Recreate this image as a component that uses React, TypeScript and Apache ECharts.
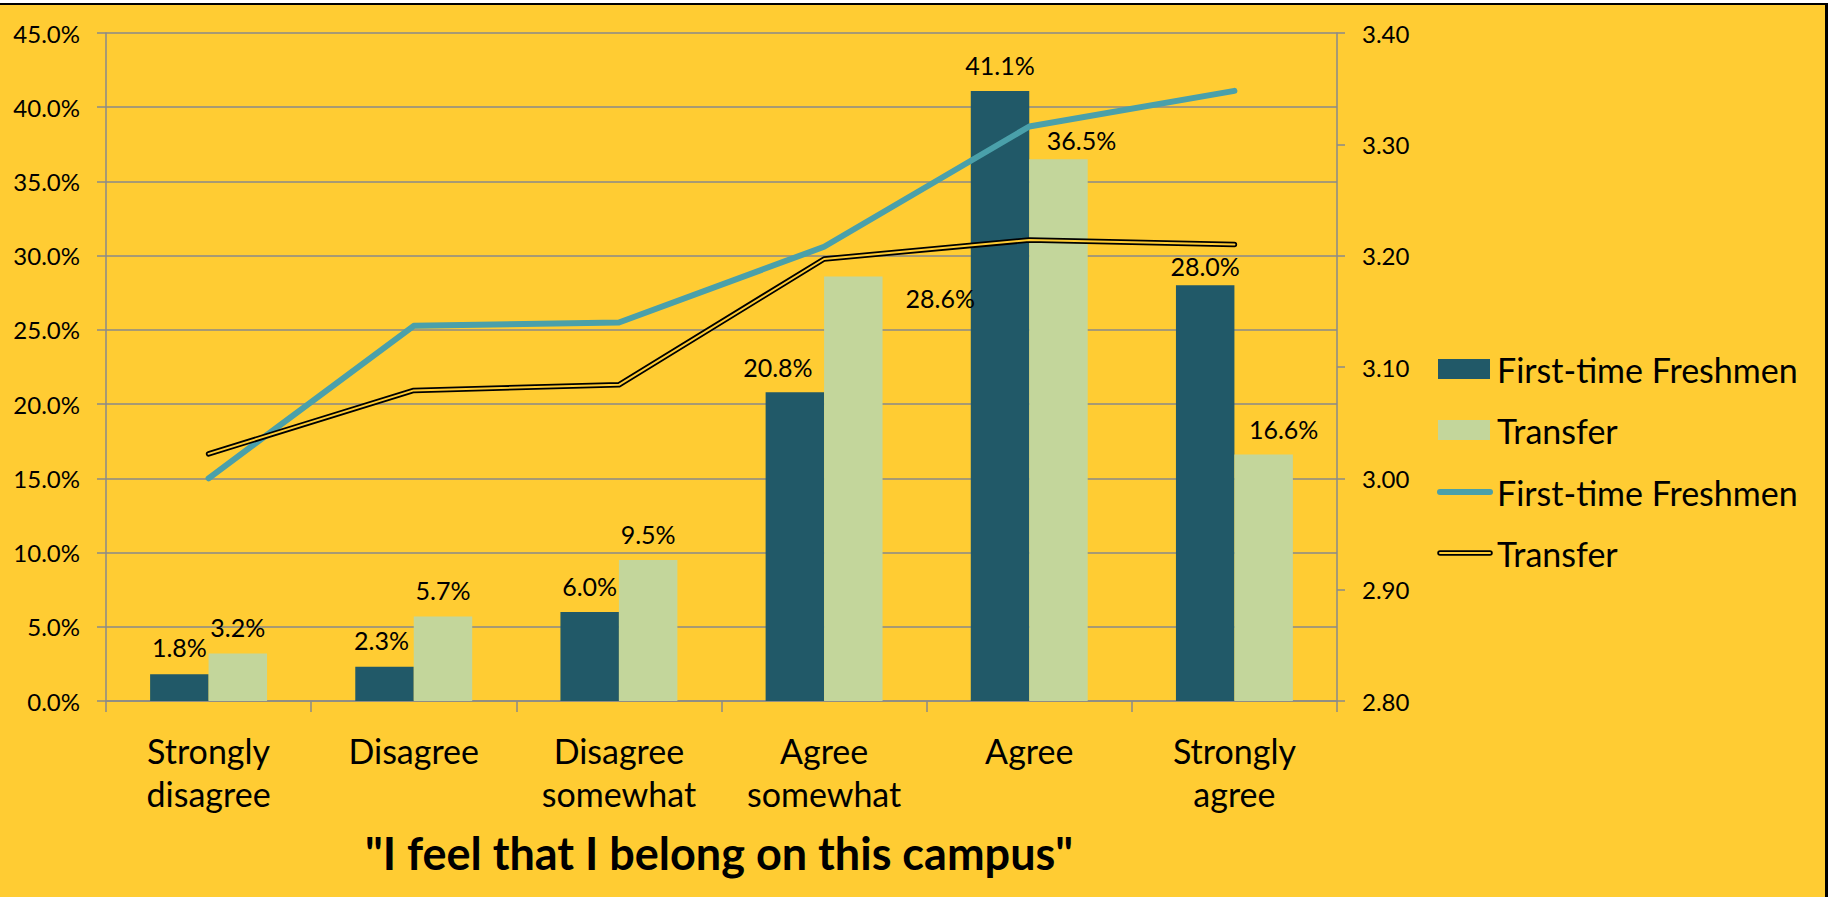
import React, { useEffect, useRef } from "react";
import * as echarts from "echarts";

const categories = [
  "Strongly\ndisagree",
  "Disagree",
  "Disagree\nsomewhat",
  "Agree\nsomewhat",
  "Agree",
  "Strongly\nagree",
];
const barFreshmen = [1.8, 2.3, 6.0, 20.8, 41.1, 28.0];
const barTransfer = [3.2, 5.7, 9.5, 28.6, 36.5, 16.6];
const meanFreshmen = [3.0, 3.137, 3.14, 3.208, 3.316, 3.348];
const meanTransfer = [3.022, 3.079, 3.084, 3.197, 3.214, 3.21];
const seriesNames = ["First-time Freshmen", "Transfer"];
const titleText = '"I feel that I belong on this campus"';

// label nudges (styling)
const freshLabelOffsets = [[0, -2], [-3, -1], [0, 0], [-17, 0], [0, 0], [0, 6]];
const transferLabelOffsets = [[0, -1], [0, -1], [0, 0], [87, 47], [23, 6], [20, 0]];

const YELLOW = "#FFCC33";
const DARK = "#215968";
const LIGHT = "#C3D69B";
const TEAL = "#4AA0AA";
const GRID = "#8a8a8a";
const FONT = "Lato, 'Noto Sans', sans-serif";

export default function App() {
  const ref = useRef<HTMLDivElement>(null);

  useEffect(() => {
    document.body.style.margin = "0";
    const chart = echarts.init(ref.current!, undefined, { renderer: "svg" });
    const labelStyle = {
      show: true,
      position: "top" as const,
      distance: 13,
      color: "#000",
      fontFamily: FONT,
      fontSize: 25,
      formatter: (p: any) => `${Number(p.value).toFixed(1)}%`,
    };
    const legendY = [369, 430, 492, 553];
    const legendText = (y: number, text: string) => ({
      type: "text",
      x: 1497,
      y,
      style: {
        text,
        fill: "#000",
        font: `34px ${FONT}`,
        textAlign: "left",
        textVerticalAlign: "middle",
      },
    });
    chart.setOption({
      animation: false,
      backgroundColor: "transparent",
      grid: { left: 106, right: 494, top: 33, bottom: 214, containLabel: false },
      xAxis: {
        type: "category",
        data: categories,
        axisLine: { show: true, lineStyle: { color: GRID, width: 1.5 } },
        axisTick: { show: true, length: 11, interval: 0, lineStyle: { color: GRID, width: 1.5 } },
        axisLabel: {
          interval: 0,
          margin: 28,
          color: "#000",
          fontFamily: FONT,
          fontSize: 34,
          lineHeight: 43,
          verticalAlign: "top",
        },
      },
      yAxis: [
        {
          type: "value",
          min: 0,
          max: 45,
          interval: 5,
          axisLine: { show: true, lineStyle: { color: GRID, width: 1.5 } },
          axisTick: { show: true, length: 9, lineStyle: { color: GRID, width: 1.5 } },
          splitLine: { show: true, lineStyle: { color: GRID, width: 1.5 } },
          axisLabel: {
            margin: 26,
            color: "#000",
            fontFamily: FONT,
            fontSize: 24,
            formatter: (v: number) => `${v.toFixed(1)}%`,
          },
        },
        {
          type: "value",
          min: 2.8,
          max: 3.4,
          interval: 0.1,
          position: "right",
          axisLine: { show: true, lineStyle: { color: GRID, width: 1.5 } },
          axisTick: { show: true, length: 8, lineStyle: { color: GRID, width: 1.5 } },
          splitLine: { show: false },
          axisLabel: {
            margin: 25,
            color: "#000",
            fontFamily: FONT,
            fontSize: 24,
            formatter: (v: number) => v.toFixed(2),
          },
        },
      ],
      series: [
        {
          name: seriesNames[0],
          type: "bar",
          data: barFreshmen.map((v, i) => ({ value: v, label: { offset: freshLabelOffsets[i] } })),
          itemStyle: { color: DARK },
          barGap: "0%",
          barCategoryGap: "43%",
          label: labelStyle,
        },
        {
          name: seriesNames[1],
          type: "bar",
          data: barTransfer.map((v, i) => ({ value: v, label: { offset: transferLabelOffsets[i] } })),
          itemStyle: { color: LIGHT },
          barGap: "0%",
          barCategoryGap: "43%",
          label: labelStyle,
        },
        {
          name: seriesNames[0] + " mean",
          type: "line",
          yAxisIndex: 1,
          data: meanFreshmen,
          showSymbol: false,
          symbol: "none",
          lineStyle: { color: TEAL, width: 6, cap: "round", join: "round" },
          z: 5,
        },
        {
          name: seriesNames[1] + " mean",
          type: "line",
          yAxisIndex: 1,
          data: meanTransfer,
          showSymbol: false,
          symbol: "none",
          lineStyle: { color: "#000", width: 5.5, cap: "round", join: "round" },
          z: 6,
        },
        {
          name: seriesNames[1] + " mean inner",
          type: "line",
          yAxisIndex: 1,
          data: meanTransfer,
          showSymbol: false,
          symbol: "none",
          lineStyle: { color: YELLOW, width: 2, cap: "round", join: "round" },
          z: 7,
        },
      ],
      graphic: [
        { type: "rect", shape: { x: 1438, y: legendY[0] - 10, width: 52, height: 20 }, style: { fill: DARK } },
        legendText(legendY[0], seriesNames[0]),
        { type: "rect", shape: { x: 1438, y: legendY[1] - 10, width: 52, height: 20 }, style: { fill: LIGHT } },
        legendText(legendY[1], seriesNames[1]),
        {
          type: "line",
          shape: { x1: 1440, y1: legendY[2], x2: 1490, y2: legendY[2] },
          style: { stroke: TEAL, lineWidth: 6, lineCap: "round" },
        },
        legendText(legendY[2], seriesNames[0]),
        {
          type: "line",
          shape: { x1: 1440, y1: legendY[3], x2: 1490, y2: legendY[3] },
          style: { stroke: "#000", lineWidth: 5.5, lineCap: "round" },
        },
        {
          type: "line",
          shape: { x1: 1440, y1: legendY[3], x2: 1490, y2: legendY[3] },
          style: { stroke: YELLOW, lineWidth: 2, lineCap: "round" },
        },
        legendText(legendY[3], seriesNames[1]),
        {
          type: "text",
          x: 719,
          y: 853,
          style: {
            text: titleText,
            fill: "#000",
            font: `bold 45px ${FONT}`,
            textAlign: "center",
            textVerticalAlign: "middle",
          },
        },
      ],
    });
    return () => chart.dispose();
  }, []);

  return (
    <div style={{ position: "relative", width: 1831, height: 915, background: "#fff", overflow: "hidden" }}>
      <div
        style={{
          position: "absolute",
          left: 0,
          top: 3,
          width: 1828,
          height: 894,
          boxSizing: "border-box",
          background: YELLOW,
          borderTop: "2px solid #000",
          borderRight: "3px solid #000",
        }}
      />
      <div ref={ref} style={{ position: "absolute", left: 0, top: 0, width: 1831, height: 915 }} />
    </div>
  );
}
